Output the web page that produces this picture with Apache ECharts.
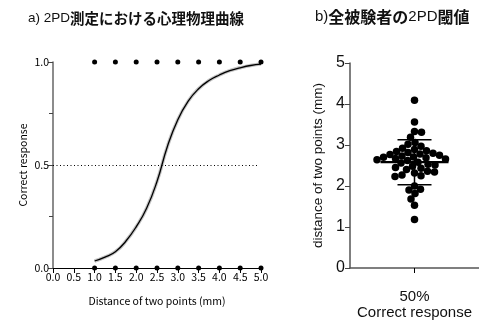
<!DOCTYPE html>
<html><head><meta charset="utf-8">
<script src="https://cdn.jsdelivr.net/npm/echarts@6/dist/echarts.min.js"></script>
<style>html,body{margin:0;padding:0;background:#fff}#c{width:479px;height:322px}</style>
</head><body><div id="c"></div>
<script>
// ---- data ----
const trialDistances = [1.0, 1.5, 2.0, 2.5, 3.0, 3.5, 4.0, 4.5, 5.0];
const hitResponses   = [1, 1, 1, 1, 1, 1, 1, 1, 1];
const missResponses  = [0, 0, 0, 0, 0, 0, 0, 0, 0];
const curveX = [1.0, 1.25, 1.5, 1.75, 2.0, 2.25, 2.5, 2.75, 3.0, 3.25, 3.5, 3.75, 4.0, 4.25, 4.5, 4.75, 5.0];
const curveY = [0.034, 0.053, 0.079, 0.13, 0.20, 0.29, 0.42, 0.59, 0.72, 0.81, 0.87, 0.91, 0.937, 0.958, 0.972, 0.983, 0.99];
const thresholdLevel = [0.5];
const thresholds = [4.09, 3.56, 3.33, 3.31, 3.19, 3.06, 3.02, 2.97,
  2.92, 2.89, 2.86, 2.84, 2.82, 2.80, 2.78, 2.77,
  2.75, 2.73, 2.71, 2.70, 2.69, 2.67, 2.66, 2.64,
  2.62, 2.58, 2.56,
  2.53, 2.51, 2.48, 2.45, 2.43, 2.40,
  2.36, 2.34, 2.32, 2.27, 2.25, 2.23,
  2.00, 1.92, 1.90, 1.82, 1.68, 1.53, 1.18];
const thresholdMean = [2.58];
const thresholdSD = [0.55];
const rightCategories = ['50%\nCorrect response'];

// ---- chart ----
const chart = echarts.init(document.getElementById('c'), null, {renderer: 'canvas'});
const leftFont = 'Noto Sans CJK JP';
const rightFont = 'Liberation Sans';
const leftTitleRich = {
  a: {fontSize: 13.5, fontWeight: 'normal', fontFamily: rightFont, color: '#111'},
  b: {fontSize: 14.5, fontWeight: 'bold', fontFamily: 'Noto Sans CJK JP', color: '#111'}
};
const rightTitleRich = {
  a: {fontSize: 15, fontWeight: 'normal', fontFamily: rightFont, color: '#111'},
  b: {fontSize: 16, fontWeight: 'bold', fontFamily: 'Noto Sans CJK JP', color: '#111'}
};

const option = {
  animation: false,
  backgroundColor: '#fff',
  title: [
    {left: 28, top: 11, padding: 0, text: '{a|a) 2PD}{b|測定における心理物理曲線}',
     textStyle: {fontWeight: 'normal', rich: leftTitleRich}},
    {left: 315, top: 9, padding: 0, text: '{a|b)}{b|全被験者の}{a|2PD}{b|閾値}',
     textStyle: {fontWeight: 'normal', rich: rightTitleRich}}
  ],
  grid: [
    {left: 53, top: 62, width: 208, height: 206},
    {left: 350, top: 63, width: 138, height: 205}
  ],
  xAxis: [
    {gridIndex: 0, type: 'value', min: 0, max: 5, interval: 0.5,
     axisLine: {show: true, onZero: false, lineStyle: {color: '#000', width: 1.2}},
     axisTick: {show: true, length: 5, lineStyle: {color: '#000'}},
     axisLabel: {color: '#000', fontSize: 10.5, fontFamily: leftFont, margin: 4, formatter: v => v.toFixed(1)},
     splitLine: {show: false},
     name: 'Distance of two points (mm)', nameLocation: 'middle', nameGap: 28,
     nameTextStyle: {color: '#000', fontSize: 10.5, fontFamily: leftFont}},
    {gridIndex: 1, type: 'category', data: rightCategories, boundaryGap: true,
     axisLine: {show: true, lineStyle: {color: '#555', width: 1.5}},
     axisTick: {show: true, alignWithLabel: true, length: 5, lineStyle: {color: '#000'}},
     axisLabel: {color: '#111', fontSize: 15, fontFamily: rightFont, margin: 21, lineHeight: 16}}
  ],
  yAxis: [
    {gridIndex: 0, type: 'value', min: 0, max: 1, interval: 0.5,
     axisLine: {show: true, onZero: false, lineStyle: {color: '#666', width: 1.5}},
     axisTick: {show: true, length: 5, lineStyle: {color: '#444'}},
     minorTick: {show: true, splitNumber: 2, length: 4, lineStyle: {color: '#444'}},
     axisLabel: {color: '#000', fontSize: 10.5, fontFamily: leftFont, margin: 4, formatter: v => v.toFixed(1)},
     splitLine: {show: false},
     name: 'Correct response', nameLocation: 'middle', nameGap: 25,
     nameTextStyle: {color: '#000', fontSize: 10.5, fontFamily: leftFont}},
    {gridIndex: 1, type: 'value', min: 0, max: 5, interval: 1,
     axisLine: {show: true, onZero: false, lineStyle: {color: '#555', width: 1.5}},
     axisTick: {show: true, length: 5, lineStyle: {color: '#444'}},
     axisLabel: {color: '#111', fontSize: 16, fontFamily: rightFont, margin: 5},
     splitLine: {show: false},
     name: 'distance of two points (mm)', nameLocation: 'middle', nameGap: 25,
     nameTextStyle: {color: '#111', fontSize: 13.5, fontFamily: rightFont}}
  ],
  series: [
    {type: 'line', xAxisIndex: 0, yAxisIndex: 0, smooth: true, symbol: 'none', z: 2,
     data: curveX.map((x, i) => [x, curveY[i]]),
     lineStyle: {color: '#c4c4c4', width: 3.5}},
    {type: 'line', xAxisIndex: 0, yAxisIndex: 0, smooth: true, symbol: 'none', z: 3,
     data: curveX.map((x, i) => [x, curveY[i]]),
     lineStyle: {color: '#000', width: 1.3},
     markLine: {silent: true, symbol: 'none', label: {show: false},
       lineStyle: {color: '#000', width: 1, type: [1, 2.5]},
       data: [[{coord: [0, thresholdLevel[0]]}, {coord: [4.95, thresholdLevel[0]]}]]}},
    {type: 'scatter', xAxisIndex: 0, yAxisIndex: 0, symbolSize: 5, z: 4,
     itemStyle: {color: '#000', opacity: 1},
     data: trialDistances.map((x, i) => [x, hitResponses[i]])},
    {type: 'scatter', xAxisIndex: 0, yAxisIndex: 0, symbolSize: 5, z: 4,
     itemStyle: {color: '#000', opacity: 1},
     data: trialDistances.map((x, i) => [x, missResponses[i]])},
    {id: 'swarm', type: 'scatter', xAxisIndex: 1, yAxisIndex: 1, symbolSize: 7.5, z: 3,
     itemStyle: {color: '#000', opacity: 1},
     data: thresholds.map(v => [0, v])},
    {type: 'custom', xAxisIndex: 1, yAxisIndex: 1, z: 5,
     data: [[0, thresholdMean[0], thresholdSD[0]]],
     encode: {x: 0, y: 1},
     renderItem: function (params, api) {
       const c = api.coord([api.value(0), api.value(1)]);
       const hi = api.coord([api.value(0), api.value(1) + api.value(2)]);
       const lo = api.coord([api.value(0), api.value(1) - api.value(2)]);
       const thin = {stroke: '#000', lineWidth: 1.5};
       return {type: 'group', children: [
         {type: 'line', shape: {x1: c[0] - 34, y1: c[1], x2: c[0] + 34, y2: c[1]}, style: {stroke: '#000', lineWidth: 2.2}},
         {type: 'line', shape: {x1: hi[0] - 17, y1: hi[1], x2: hi[0] + 17, y2: hi[1]}, style: thin},
         {type: 'line', shape: {x1: lo[0] - 17, y1: lo[1], x2: lo[0] + 17, y2: lo[1]}, style: thin},
         {type: 'line', shape: {x1: hi[0], y1: hi[1], x2: lo[0], y2: lo[1]}, style: thin}
       ]};
     }}
  ]
};
chart.setOption(option);

// beeswarm layout in pixel space, using the axis scale
const ppu = chart.convertToPixel({yAxisIndex: 1}, 0) - chart.convertToPixel({yAxisIndex: 1}, 1);
const dia = 6.8;
const order = thresholds.map((v, i) => i).sort((a, b) => thresholds[b] - thresholds[a]);
const placed = [];
const offsets = new Array(thresholds.length).fill(0);
for (const i of order) {
  const y = thresholds[i] * ppu;
  for (let k = 0; k < 600; k++) {
    const dx = (k % 2 ? 1 : -1) * Math.ceil(k / 2) * 0.5;
    let ok = true;
    for (const p of placed) {
      const ddx = dx - p[0], ddy = y - p[1];
      if (ddx * ddx + ddy * ddy < dia * dia - 0.01) { ok = false; break; }
    }
    if (ok) { offsets[i] = dx; placed.push([dx, y]); break; }
  }
}
chart.setOption({series: [{id: 'swarm',
  data: thresholds.map((v, i) => ({value: [0, v], symbolOffset: [offsets[i], 0]}))}]});
</script>
</body></html>
